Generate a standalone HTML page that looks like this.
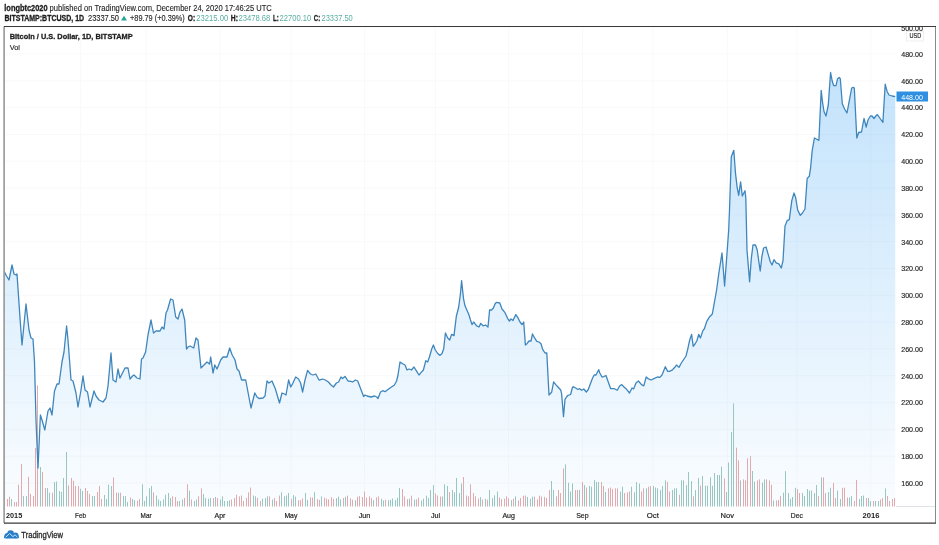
<!DOCTYPE html>
<html><head><meta charset="utf-8"><title>BTCUSD chart</title><style>
html,body{margin:0;padding:0;background:#fff;}
body{width:939px;height:545px;overflow:hidden;position:relative;}
svg{position:absolute;left:0;top:0;display:block;}
text{font-family:"Liberation Sans",Arial,sans-serif;}
</style></head><body>
<svg width="939" height="545" viewBox="0 0 939 545">
<defs>
<linearGradient id="g" x1="0" y1="72" x2="0" y2="506" gradientUnits="userSpaceOnUse">
<stop offset="0" stop-color="#2196f3" stop-opacity="0.27"/>
<stop offset="1" stop-color="#2196f3" stop-opacity="0.02"/>
</linearGradient>
<clipPath id="pane"><rect x="4.5" y="26.5" width="891" height="480"/></clipPath>
<clipPath id="box"><rect x="4.5" y="26.8" width="930.5" height="496"/></clipPath>
</defs>

<text x="4.3" y="10.6" font-size="8.3" font-weight="bold" fill="#1e1e1e" textLength="43.3" lengthAdjust="spacingAndGlyphs" stroke="#1e1e1e" stroke-width="0.3">longbtc2020</text>
<text x="49.6" y="10.6" font-size="8.3" fill="#1e1e1e" textLength="222.2" lengthAdjust="spacingAndGlyphs" stroke="#1e1e1e" stroke-width="0.12">published on TradingView.com, December 24, 2020 17:46:25 UTC</text>
<text x="4.5" y="20.7" font-size="8.3" font-weight="bold" fill="#1e1e1e" textLength="79.6" lengthAdjust="spacingAndGlyphs" stroke="#1e1e1e" stroke-width="0.3">BITSTAMP:BTCUSD, 1D</text>
<text x="88" y="20.7" font-size="8.3" fill="#1e1e1e" textLength="31" lengthAdjust="spacingAndGlyphs" stroke="#1e1e1e" stroke-width="0.12">23337.50</text>
<polygon points="121,20.5 127,20.5 124,15.8" fill="#26a69a"/>
<text x="130" y="20.7" font-size="8.3" fill="#1e1e1e" textLength="54.8" lengthAdjust="spacingAndGlyphs" stroke="#1e1e1e" stroke-width="0.12">+89.79 (+0.39%)</text>
<text x="187.8" y="20.7" font-size="8.3" font-weight="bold" fill="#1e1e1e" textLength="7.3" lengthAdjust="spacingAndGlyphs" stroke="#1e1e1e" stroke-width="0.3">O:</text>
<text x="196.2" y="20.7" font-size="8.3" fill="#5aaea3" textLength="32" lengthAdjust="spacingAndGlyphs">23215.00</text>
<text x="230.8" y="20.7" font-size="8.3" font-weight="bold" fill="#1e1e1e" textLength="7.1" lengthAdjust="spacingAndGlyphs" stroke="#1e1e1e" stroke-width="0.3">H:</text>
<text x="238.4" y="20.7" font-size="8.3" fill="#5aaea3" textLength="32" lengthAdjust="spacingAndGlyphs">23478.68</text>
<text x="273" y="20.7" font-size="8.3" font-weight="bold" fill="#1e1e1e" textLength="5.7" lengthAdjust="spacingAndGlyphs" stroke="#1e1e1e" stroke-width="0.3">L:</text>
<text x="279.5" y="20.7" font-size="8.3" fill="#5aaea3" textLength="31.8" lengthAdjust="spacingAndGlyphs">22700.10</text>
<text x="313.8" y="20.7" font-size="8.3" font-weight="bold" fill="#1e1e1e" textLength="6.4" lengthAdjust="spacingAndGlyphs" stroke="#1e1e1e" stroke-width="0.3">C:</text>
<text x="321.5" y="20.7" font-size="8.3" fill="#5aaea3" textLength="31.3" lengthAdjust="spacingAndGlyphs">23337.50</text>
<path d="M4.5 483H895.5 M4.5 456.2H895.5 M4.5 429.3H895.5 M4.5 402.5H895.5 M4.5 375.7H895.5 M4.5 348.9H895.5 M4.5 322.1H895.5 M4.5 295.3H895.5 M4.5 268.5H895.5 M4.5 241.7H895.5 M4.5 214.9H895.5 M4.5 188.1H895.5 M4.5 161.2H895.5 M4.5 134.4H895.5 M4.5 107.6H895.5 M4.5 80.8H895.5 M4.5 54H895.5 M4.5 27.2H895.5 M80.5 26.5V506 M146 26.5V506 M220 26.5V506 M291 26.5V506 M364.5 26.5V506 M435.6 26.5V506 M508.6 26.5V506 M582.5 26.5V506 M652.9 26.5V506 M727.3 26.5V506 M796.9 26.5V506 M870.9 26.5V506" stroke="#f8f9fb" stroke-width="1" fill="none"/>
<g clip-path="url(#pane)">
<polygon points="4,506.5 4,271 6.5,276 9,280 12,265 14,274 16,275 17,274 20,318 22,345 26,304 29,330 31,338 33,339 34.5,362 36,420 38,468 40.4,415 42,420 44.8,430 48,411 50,408 52,415 54.5,391 57,384 59,384 62,362 64,352 66.6,326 68,340 71,380 73,381 76,393 78,407 81,390 83,376 85,390 87.5,392 90,407 94,391 96,396 99,400 103,402 106,398 108,386 111,353 113,380 116,382 118,369 120,378 123,372 125,368 128,368 130,379 132.5,376 134,375 137,378 140,379 141.5,359 143,358 145.6,352 148,335 151,320 153.5,333 156,331 160,331 162,327 164,329 166,313 167.5,310 170.6,299 173,300 175.7,317 178,319 180,312 182,309 184.7,320 186.5,349 188,347 190,346 193.7,348 196,338 198,340 201,368 204,365 207,362 209.6,364 210.7,357 213,373 214.8,365 217,369 220.7,360 223,357 227,357 229.7,348 232,354.5 235,360 237,369 239,371 241.6,380 245.7,380 251,408 254.8,393 257,397 259,398.5 263,398 265,396 267,381 269,383 272,381 275.4,389 279.5,403 282,393 284.5,394 286,395 288.6,380 290.7,387 292.7,383.6 295.7,377 298.5,379 300.6,383 302.6,392 305,380 307.6,370.4 310.5,374 313,375 315.8,374 319,380 322.5,379 325.4,380 328.4,382 331,385 333.5,387 336.4,383 338.6,382 341,377 342.6,378.5 345,376.4 348,381 351,381.4 352.6,382 355.5,380 357.7,381 360,387 363.6,396.5 365,395 367,396 371,397 374.6,396 376.8,397 378,398.5 380.5,392 382.7,390.7 385,391.7 388.6,389 391.5,387 394.4,385 396.6,381 398,375 400,362 401.5,363 403,364 405,365 407,370 409,369 411.5,370 414,367 416.7,371.4 419,375 421,372.6 423.4,370 425.8,360.7 427.7,362 429.4,357 431.8,348.8 433.4,345 435.3,350 437.7,353.5 440,355.4 442,353.5 443.7,348.8 445.4,333 447.7,338 449.7,340 451.6,334.4 454,335.6 456.3,316.5 458.7,307 460.4,294 461.6,280.7 463.5,298.6 465,305.8 467.6,311.8 469,315 470.5,320 472,324.6 473.6,322 476.7,325.8 479,327 480.7,323.4 483,325.8 485.5,325 488,327 489.6,310 491.5,310 493.4,308 495,304 496.3,302.4 499.8,303 502,309 505,312.7 507.7,318.6 509.4,321 511,319 513,320.5 515.8,314.6 517.7,317.4 520,322 522,324.6 523.7,322 525.4,345 527,343.7 529,341 531,341 532.5,334 534.4,337.7 536.8,341.3 539,342 541,343.7 542.8,349.7 545,353 546.8,353 549,395 551.6,392.3 553.6,382 555.8,384.6 558,387 560.7,390 561.6,393.6 563.5,416.7 565,399.4 566.5,397 568,395.3 570.6,394.5 572.3,388 573,386.7 575.6,388 578,389.5 579.7,388.7 581.7,390.3 583.8,389 586.3,392 588.3,389.5 590.4,383.7 592.6,378 594.2,375 596,375 598.7,369.7 599.8,373 602,377 603.6,376.6 606,375.5 608.6,383 610.7,388.7 614.4,388.7 617.3,390.3 619.6,386 621.8,384.6 624,387 626,388.7 629.5,393 632,388 633.6,389 636,383 638.4,381 641.5,384.6 643.8,385.8 646.2,377 648,378.6 651,380 653.9,378.6 657.4,377 659.8,377.4 662,375 665.3,366.7 667.7,371.4 669.4,371.4 672.5,369.8 675.3,366.7 676.5,365 679,367.4 681.3,363 683.7,359.5 686,356 687.8,348.8 689.7,340 691.6,334.4 693.2,346.4 695,344 696.8,341 698.7,334.4 700.4,338 702.8,330.9 704.5,328.5 706.8,321.3 709.2,317.3 712.3,314 714,304.6 716.6,290 719,272 722,253 724.6,286 728.7,230 729.5,210 731.3,156.7 733.8,150.3 735.5,173.4 737.2,187.6 738.7,195.3 740.6,181.8 742.3,196 745,190.8 745.8,197.8 747,250 749.6,281.8 751.3,258.6 753,245 755.5,245 757.2,250 758.7,260.7 760.2,271 761.9,256.5 763.6,248 766,247 768.2,254.4 770.3,261.8 772,265 774,259.7 776.2,262.8 778.8,263.9 781.3,268 783,260.7 785,226 787.2,220.6 789.3,219.6 791.8,200.6 794,193 795.6,197.4 797.7,210 800.3,215.4 802.4,213 805,209 807.2,178.4 809.3,176.3 810.6,167.8 812.2,150.6 814.4,138 816.3,139 818.9,140.3 821.2,90.4 822.5,102 824,111.5 826,116 828.3,105 829.8,83.4 830.6,72.5 832.2,81 833.7,85.7 836,85.7 837.6,78.7 839.2,77.5 840.3,78.7 842.3,103.7 844.6,109 847,113 849.3,100.6 851.7,88 853.2,87.3 854.3,88 856.8,138 858.7,132.5 861.5,132 864,118.5 866.2,127 868,120 870.4,116 872,116 874,118.5 875.8,116 877.4,114.6 880.5,119 882.9,122.4 885.2,84.2 887,91.2 889,95 892.2,96 895.5,96.7 895.5,506.5" fill="url(#g)"/>
<path d="M11.5 507V499 M23.5 507V496 M26.5 507V496 M40.5 507V467 M47.5 507V488 M49.5 507V492.7 M54.5 507V482 M56.5 507V481.5 M59.5 507V491 M61.5 507V492 M63.5 507V478 M66.5 507V452 M80.5 507V488.7 M82.5 507V491 M92.5 507V496 M94.5 507V496 M104.5 507V495 M106.5 507V499 M108.5 507V484.7 M111.5 507V486 M118.5 507V492.7 M123.5 507V496 M125.5 507V496 M127.5 507V502 M132.5 507V499 M134.5 507V500 M142.5 507V484.3 M144.5 507V501 M146.5 507V496.3 M149.5 507V488.3 M151.5 507V486 M156.5 507V495.5 M158.5 507V499.5 M160.5 507V501 M163.5 507V499.5 M165.5 507V494.7 M168.5 507V493 M170.5 507V498 M179.5 507V501 M182.5 507V499.5 M189.5 507V490.7 M194.5 507V501 M196.5 507V499.5 M203.5 507V494 M205.5 507V498 M208.5 507V498.7 M210.5 507V498 M215.5 507V497 M220.5 507V499.5 M222.5 507V496.3 M224.5 507V501 M227.5 507V501 M229.5 507V500.3 M253.5 507V495.5 M255.5 507V496.3 M262.5 507V498.7 M265.5 507V498 M267.5 507V496.3 M272.5 507V499.5 M281.5 507V492.3 M284.5 507V496.3 M286.5 507V495.5 M288.5 507V493 M293.5 507V495.1 M295.5 507V496.6 M305.5 507V493 M307.5 507V499.9 M314.5 507V492.2 M321.5 507V496.4 M336.5 507V498.2 M338.5 507V496.5 M340.5 507V499.3 M345.5 507V496.9 M355.5 507V500.3 M373.5 507V500.2 M381.5 507V498.6 M383.5 507V500.4 M388.5 507V500.2 M390.5 507V499.9 M392.5 507V498.5 M395.5 507V500.1 M397.5 507V497.8 M399.5 507V488 M409.5 507V498.7 M414.5 507V499.6 M421.5 507V500.5 M423.5 507V498.7 M426.5 507V495.7 M428.5 507V497.9 M430.5 507V490 M433.5 507V485 M442.5 507V496.5 M444.5 507V484.3 M447.5 507V486 M452.5 507V490 M454.5 507V492.3 M456.5 507V478 M459.5 507V493 M461.5 507V483.5 M480.5 507V497.1 M485.5 507V498.8 M489.5 507V490 M492.5 507V498 M494.5 507V495.2 M497.5 507V491.5 M511.5 507V500.1 M515.5 507V496.4 M527.5 507V497 M530.5 507V498.7 M532.5 507V496.6 M551.5 507V481 M553.5 507V490 M565.5 507V464.4 M568.5 507V482.7 M570.5 507V491.5 M572.5 507V483.5 M579.5 507V490 M584.5 507V485 M589.5 507V486 M591.5 507V486.7 M594.5 507V480 M596.5 507V482 M598.5 507V482 M605.5 507V492 M620.5 507V491.5 M622.5 507V486.7 M631.5 507V486.7 M634.5 507V492.3 M636.5 507V482 M639.5 507V483.5 M646.5 507V488.3 M653.5 507V486 M655.5 507V487.5 M657.5 507V488.3 M660.5 507V490 M662.5 507V486 M665.5 507V480.3 M672.5 507V490 M674.5 507V488.3 M676.5 507V488.3 M681.5 507V480.3 M683.5 507V480.3 M686.5 507V485 M688.5 507V472 M691.5 507V481 M695.5 507V490 M698.5 507V478 M702.5 507V476 M705.5 507V485.7 M707.5 507V485.7 M710.5 507V477.3 M712.5 507V485.7 M714.5 507V473 M717.5 507V475 M719.5 507V475 M721.5 507V466.7 M726.5 507V492 M728.5 507V462.5 M731.5 507V432 M733.5 507V403.4 M740.5 507V480.4 M752.5 507V471 M754.5 507V481.5 M762.5 507V482.6 M764.5 507V479.4 M773.5 507V500.5 M783.5 507V492.6 M785.5 507V471.2 M788.5 507V493 M790.5 507V499 M792.5 507V497 M795.5 507V487.8 M802.5 507V493 M804.5 507V496 M807.5 507V489 M809.5 507V490.5 M811.5 507V490.5 M814.5 507V493 M816.5 507V485 M821.5 507V477.4 M828.5 507V492 M830.5 507V487.8 M837.5 507V490.5 M840.5 507V499 M849.5 507V497.5 M851.5 507V496 M859.5 507V499 M861.5 507V496 M863.5 507V495.5 M868.5 507V498 M870.5 507V501 M875.5 507V501 M878.5 507V501 M885.5 507V488.5" stroke="#98c6c0" stroke-width="1" fill="none"/>
<path d="M7.5 507V499 M9.5 507V496.7 M14.5 507V502 M16.5 507V502 M18.5 507V484.7 M21.5 507V464 M28.5 507V476.7 M30.5 507V494 M33.5 507V496 M35.5 507V448 M37.5 507V385.4 M42.5 507V472 M45.5 507V488 M52.5 507V492.7 M68.5 507V485.5 M71.5 507V478 M73.5 507V480.7 M75.5 507V486 M78.5 507V486 M85.5 507V488 M87.5 507V491 M89.5 507V494 M97.5 507V492 M99.5 507V486 M101.5 507V499 M113.5 507V477.5 M116.5 507V492.7 M120.5 507V492.7 M130.5 507V497.5 M137.5 507V500.7 M139.5 507V499 M153.5 507V492.3 M172.5 507V496.3 M175.5 507V497 M177.5 507V501 M184.5 507V498 M187.5 507V484.3 M191.5 507V499.5 M198.5 507V496.3 M201.5 507V488.3 M213.5 507V498 M217.5 507V498 M231.5 507V499.5 M234.5 507V498 M236.5 507V494.7 M239.5 507V496.3 M241.5 507V495.5 M243.5 507V501 M246.5 507V498 M248.5 507V492.3 M250.5 507V487.5 M257.5 507V498 M260.5 507V501 M269.5 507V496.3 M274.5 507V498 M276.5 507V501 M279.5 507V495.5 M291.5 507V498.9 M298.5 507V500.3 M300.5 507V500.2 M302.5 507V498.4 M310.5 507V497.4 M312.5 507V497.6 M317.5 507V499.1 M319.5 507V499.9 M324.5 507V497.6 M326.5 507V498.6 M328.5 507V499.4 M331.5 507V497.1 M333.5 507V498.9 M343.5 507V497.9 M347.5 507V495.6 M350.5 507V498.4 M352.5 507V499.7 M357.5 507V496.7 M359.5 507V496.1 M362.5 507V497 M364.5 507V491.5 M366.5 507V497.6 M369.5 507V496.3 M371.5 507V498.1 M376.5 507V497.3 M378.5 507V496.4 M385.5 507V499.7 M402.5 507V489 M404.5 507V496.4 M407.5 507V499.1 M411.5 507V495.7 M416.5 507V499.3 M418.5 507V497.6 M435.5 507V493.5 M437.5 507V495.5 M440.5 507V496.6 M449.5 507V492 M463.5 507V477 M466.5 507V495.5 M468.5 507V496.3 M470.5 507V484.3 M473.5 507V493 M475.5 507V496.3 M478.5 507V498.5 M482.5 507V499.5 M487.5 507V499.7 M499.5 507V497.4 M501.5 507V499.2 M504.5 507V498.7 M506.5 507V496.3 M508.5 507V498.2 M513.5 507V498.8 M518.5 507V500.4 M520.5 507V497.9 M523.5 507V495.7 M525.5 507V495.6 M534.5 507V496.6 M537.5 507V499.4 M539.5 507V495.6 M541.5 507V496.5 M544.5 507V496.8 M546.5 507V497.9 M549.5 507V490 M556.5 507V496.3 M558.5 507V490 M560.5 507V493 M563.5 507V468.4 M575.5 507V490 M577.5 507V490 M582.5 507V482 M586.5 507V487.5 M601.5 507V482 M603.5 507V486 M608.5 507V488.3 M610.5 507V487.5 M612.5 507V489 M615.5 507V488.3 M617.5 507V488.3 M624.5 507V493 M627.5 507V492.3 M629.5 507V491.5 M641.5 507V491.5 M643.5 507V488.3 M648.5 507V486.7 M650.5 507V486 M667.5 507V482 M669.5 507V491.5 M679.5 507V494.7 M693.5 507V496.3 M700.5 507V485.7 M724.5 507V478.3 M736.5 507V447.7 M738.5 507V460.4 M743.5 507V479.4 M745.5 507V480.4 M747.5 507V458.3 M750.5 507V456.2 M757.5 507V480.4 M759.5 507V479.4 M766.5 507V479.4 M769.5 507V480.4 M771.5 507V484.7 M776.5 507V500.5 M778.5 507V500 M780.5 507V496 M797.5 507V489 M799.5 507V493 M818.5 507V496 M823.5 507V477.4 M825.5 507V493 M833.5 507V483 M835.5 507V498 M842.5 507V487.8 M844.5 507V487.8 M847.5 507V497.5 M854.5 507V501 M856.5 507V480 M866.5 507V498 M873.5 507V501 M880.5 507V499.5 M882.5 507V498 M887.5 507V496 M889.5 507V501 M892.5 507V499 M894.5 507V498" stroke="#e2aaad" stroke-width="1" fill="none"/>
<polyline points="4,271 6.5,276 9,280 12,265 14,274 16,275 17,274 20,318 22,345 26,304 29,330 31,338 33,339 34.5,362 36,420 38,468 40.4,415 42,420 44.8,430 48,411 50,408 52,415 54.5,391 57,384 59,384 62,362 64,352 66.6,326 68,340 71,380 73,381 76,393 78,407 81,390 83,376 85,390 87.5,392 90,407 94,391 96,396 99,400 103,402 106,398 108,386 111,353 113,380 116,382 118,369 120,378 123,372 125,368 128,368 130,379 132.5,376 134,375 137,378 140,379 141.5,359 143,358 145.6,352 148,335 151,320 153.5,333 156,331 160,331 162,327 164,329 166,313 167.5,310 170.6,299 173,300 175.7,317 178,319 180,312 182,309 184.7,320 186.5,349 188,347 190,346 193.7,348 196,338 198,340 201,368 204,365 207,362 209.6,364 210.7,357 213,373 214.8,365 217,369 220.7,360 223,357 227,357 229.7,348 232,354.5 235,360 237,369 239,371 241.6,380 245.7,380 251,408 254.8,393 257,397 259,398.5 263,398 265,396 267,381 269,383 272,381 275.4,389 279.5,403 282,393 284.5,394 286,395 288.6,380 290.7,387 292.7,383.6 295.7,377 298.5,379 300.6,383 302.6,392 305,380 307.6,370.4 310.5,374 313,375 315.8,374 319,380 322.5,379 325.4,380 328.4,382 331,385 333.5,387 336.4,383 338.6,382 341,377 342.6,378.5 345,376.4 348,381 351,381.4 352.6,382 355.5,380 357.7,381 360,387 363.6,396.5 365,395 367,396 371,397 374.6,396 376.8,397 378,398.5 380.5,392 382.7,390.7 385,391.7 388.6,389 391.5,387 394.4,385 396.6,381 398,375 400,362 401.5,363 403,364 405,365 407,370 409,369 411.5,370 414,367 416.7,371.4 419,375 421,372.6 423.4,370 425.8,360.7 427.7,362 429.4,357 431.8,348.8 433.4,345 435.3,350 437.7,353.5 440,355.4 442,353.5 443.7,348.8 445.4,333 447.7,338 449.7,340 451.6,334.4 454,335.6 456.3,316.5 458.7,307 460.4,294 461.6,280.7 463.5,298.6 465,305.8 467.6,311.8 469,315 470.5,320 472,324.6 473.6,322 476.7,325.8 479,327 480.7,323.4 483,325.8 485.5,325 488,327 489.6,310 491.5,310 493.4,308 495,304 496.3,302.4 499.8,303 502,309 505,312.7 507.7,318.6 509.4,321 511,319 513,320.5 515.8,314.6 517.7,317.4 520,322 522,324.6 523.7,322 525.4,345 527,343.7 529,341 531,341 532.5,334 534.4,337.7 536.8,341.3 539,342 541,343.7 542.8,349.7 545,353 546.8,353 549,395 551.6,392.3 553.6,382 555.8,384.6 558,387 560.7,390 561.6,393.6 563.5,416.7 565,399.4 566.5,397 568,395.3 570.6,394.5 572.3,388 573,386.7 575.6,388 578,389.5 579.7,388.7 581.7,390.3 583.8,389 586.3,392 588.3,389.5 590.4,383.7 592.6,378 594.2,375 596,375 598.7,369.7 599.8,373 602,377 603.6,376.6 606,375.5 608.6,383 610.7,388.7 614.4,388.7 617.3,390.3 619.6,386 621.8,384.6 624,387 626,388.7 629.5,393 632,388 633.6,389 636,383 638.4,381 641.5,384.6 643.8,385.8 646.2,377 648,378.6 651,380 653.9,378.6 657.4,377 659.8,377.4 662,375 665.3,366.7 667.7,371.4 669.4,371.4 672.5,369.8 675.3,366.7 676.5,365 679,367.4 681.3,363 683.7,359.5 686,356 687.8,348.8 689.7,340 691.6,334.4 693.2,346.4 695,344 696.8,341 698.7,334.4 700.4,338 702.8,330.9 704.5,328.5 706.8,321.3 709.2,317.3 712.3,314 714,304.6 716.6,290 719,272 722,253 724.6,286 728.7,230 729.5,210 731.3,156.7 733.8,150.3 735.5,173.4 737.2,187.6 738.7,195.3 740.6,181.8 742.3,196 745,190.8 745.8,197.8 747,250 749.6,281.8 751.3,258.6 753,245 755.5,245 757.2,250 758.7,260.7 760.2,271 761.9,256.5 763.6,248 766,247 768.2,254.4 770.3,261.8 772,265 774,259.7 776.2,262.8 778.8,263.9 781.3,268 783,260.7 785,226 787.2,220.6 789.3,219.6 791.8,200.6 794,193 795.6,197.4 797.7,210 800.3,215.4 802.4,213 805,209 807.2,178.4 809.3,176.3 810.6,167.8 812.2,150.6 814.4,138 816.3,139 818.9,140.3 821.2,90.4 822.5,102 824,111.5 826,116 828.3,105 829.8,83.4 830.6,72.5 832.2,81 833.7,85.7 836,85.7 837.6,78.7 839.2,77.5 840.3,78.7 842.3,103.7 844.6,109 847,113 849.3,100.6 851.7,88 853.2,87.3 854.3,88 856.8,138 858.7,132.5 861.5,132 864,118.5 866.2,127 868,120 870.4,116 872,116 874,118.5 875.8,116 877.4,114.6 880.5,119 882.9,122.4 885.2,84.2 887,91.2 889,95 892.2,96 895.5,96.7" fill="none" stroke="#3f86bd" stroke-width="1.3" stroke-linejoin="round"/>
</g>
<path d="M896 506.5H935" stroke="#dfe2e8" stroke-width="1"/>
<g clip-path="url(#box)">
<text x="901.2" y="485.8" font-size="8" fill="#222" textLength="21.7" lengthAdjust="spacingAndGlyphs" stroke="#222" stroke-width="0.15">160.00</text>
<text x="901.2" y="459" font-size="8" fill="#222" textLength="21.7" lengthAdjust="spacingAndGlyphs" stroke="#222" stroke-width="0.15">180.00</text>
<text x="901.2" y="432.1" font-size="8" fill="#222" textLength="21.7" lengthAdjust="spacingAndGlyphs" stroke="#222" stroke-width="0.15">200.00</text>
<text x="901.2" y="405.3" font-size="8" fill="#222" textLength="21.7" lengthAdjust="spacingAndGlyphs" stroke="#222" stroke-width="0.15">220.00</text>
<text x="901.2" y="378.5" font-size="8" fill="#222" textLength="21.7" lengthAdjust="spacingAndGlyphs" stroke="#222" stroke-width="0.15">240.00</text>
<text x="901.2" y="351.7" font-size="8" fill="#222" textLength="21.7" lengthAdjust="spacingAndGlyphs" stroke="#222" stroke-width="0.15">260.00</text>
<text x="901.2" y="324.9" font-size="8" fill="#222" textLength="21.7" lengthAdjust="spacingAndGlyphs" stroke="#222" stroke-width="0.15">280.00</text>
<text x="901.2" y="298.1" font-size="8" fill="#222" textLength="21.7" lengthAdjust="spacingAndGlyphs" stroke="#222" stroke-width="0.15">300.00</text>
<text x="901.2" y="271.3" font-size="8" fill="#222" textLength="21.7" lengthAdjust="spacingAndGlyphs" stroke="#222" stroke-width="0.15">320.00</text>
<text x="901.2" y="244.5" font-size="8" fill="#222" textLength="21.7" lengthAdjust="spacingAndGlyphs" stroke="#222" stroke-width="0.15">340.00</text>
<text x="901.2" y="217.7" font-size="8" fill="#222" textLength="21.7" lengthAdjust="spacingAndGlyphs" stroke="#222" stroke-width="0.15">360.00</text>
<text x="901.2" y="190.9" font-size="8" fill="#222" textLength="21.7" lengthAdjust="spacingAndGlyphs" stroke="#222" stroke-width="0.15">380.00</text>
<text x="901.2" y="164" font-size="8" fill="#222" textLength="21.7" lengthAdjust="spacingAndGlyphs" stroke="#222" stroke-width="0.15">400.00</text>
<text x="901.2" y="137.2" font-size="8" fill="#222" textLength="21.7" lengthAdjust="spacingAndGlyphs" stroke="#222" stroke-width="0.15">420.00</text>
<text x="901.2" y="110.4" font-size="8" fill="#222" textLength="21.7" lengthAdjust="spacingAndGlyphs" stroke="#222" stroke-width="0.15">440.00</text>
<text x="901.2" y="83.6" font-size="8" fill="#222" textLength="21.7" lengthAdjust="spacingAndGlyphs" stroke="#222" stroke-width="0.15">460.00</text>
<text x="901.2" y="56.8" font-size="8" fill="#222" textLength="21.7" lengthAdjust="spacingAndGlyphs" stroke="#222" stroke-width="0.15">480.00</text>
<text x="901.2" y="30.6" font-size="8" fill="#222" textLength="21.7" lengthAdjust="spacingAndGlyphs" stroke="#222" stroke-width="0.15">500.00</text>
</g>
<rect x="906.5" y="31.5" width="17" height="9.5" fill="#fff" stroke="#efefef" stroke-width="1"/>
<text x="909.5" y="38.1" font-size="7.5" fill="#222" textLength="11.8" lengthAdjust="spacingAndGlyphs" stroke="#222" stroke-width="0.15">USD</text>
<rect x="896.5" y="91.5" width="31.5" height="10" fill="#2f8fe0"/>
<text x="901.2" y="99.7" font-size="8" fill="#fff" textLength="21.7" lengthAdjust="spacingAndGlyphs">448.00</text>
<text x="6" y="518.4" font-size="8" font-weight="bold" fill="#222" textLength="16.2" lengthAdjust="spacingAndGlyphs">2015</text>
<text x="75" y="518.4" font-size="8" fill="#222" textLength="11" lengthAdjust="spacingAndGlyphs" stroke="#222" stroke-width="0.2">Feb</text>
<text x="140.6" y="518.4" font-size="8" fill="#222" textLength="11" lengthAdjust="spacingAndGlyphs" stroke="#222" stroke-width="0.2">Mar</text>
<text x="214.5" y="518.4" font-size="8" fill="#222" textLength="10.9" lengthAdjust="spacingAndGlyphs" stroke="#222" stroke-width="0.2">Apr</text>
<text x="284.4" y="518.4" font-size="8" fill="#222" textLength="13" lengthAdjust="spacingAndGlyphs" stroke="#222" stroke-width="0.2">May</text>
<text x="358.7" y="518.4" font-size="8" fill="#222" textLength="11.6" lengthAdjust="spacingAndGlyphs" stroke="#222" stroke-width="0.2">Jun</text>
<text x="431" y="518.4" font-size="8" fill="#222" textLength="9.2" lengthAdjust="spacingAndGlyphs" stroke="#222" stroke-width="0.2">Jul</text>
<text x="502.4" y="518.4" font-size="8" fill="#222" textLength="12.5" lengthAdjust="spacingAndGlyphs" stroke="#222" stroke-width="0.2">Aug</text>
<text x="576.2" y="518.4" font-size="8" fill="#222" textLength="12.5" lengthAdjust="spacingAndGlyphs" stroke="#222" stroke-width="0.2">Sep</text>
<text x="646.8" y="518.4" font-size="8" fill="#222" textLength="12.1" lengthAdjust="spacingAndGlyphs" stroke="#222" stroke-width="0.2">Oct</text>
<text x="720.6" y="518.4" font-size="8" fill="#222" textLength="13.4" lengthAdjust="spacingAndGlyphs" stroke="#222" stroke-width="0.2">Nov</text>
<text x="790.8" y="518.4" font-size="8" fill="#222" textLength="12.1" lengthAdjust="spacingAndGlyphs" stroke="#222" stroke-width="0.2">Dec</text>
<text x="862.4" y="518.4" font-size="8" font-weight="bold" fill="#222" textLength="17" lengthAdjust="spacingAndGlyphs">2016</text>
<text x="9.7" y="39.2" font-size="7.7" font-weight="bold" fill="#1e1e1e" textLength="123" lengthAdjust="spacingAndGlyphs" stroke="#1e1e1e" stroke-width="0.3">Bitcoin / U.S. Dollar, 1D, BITSTAMP</text>
<text x="9.7" y="49.8" font-size="7.9" fill="#222" textLength="10.3" lengthAdjust="spacingAndGlyphs" stroke="#222" stroke-width="0.12">Vol</text>
<path d="M4.1 26.5V523" stroke="#909090" stroke-width="1.5"/>
<path d="M935.5 26.5V523" stroke="#8a8a8a" stroke-width="1"/>
<path d="M4 26.5H936" stroke="#3a3a3a" stroke-width="1"/>
<path d="M4 523.2H936" stroke="#3a3a3a" stroke-width="1.2"/>
<g fill="#2b7dc6"><circle cx="7.3" cy="535.6" r="2.7"/><circle cx="10.6" cy="533.6" r="3.4"/><circle cx="15.6" cy="535.3" r="2.9"/><rect x="4.1" y="535.2" width="14.8" height="3.4" rx="1.4"/></g>
<polyline points="5.8,537.2 9.6,533.5 13.0,536.6 15.0,534.8 17.3,537.0" fill="none" stroke="#cdeefc" stroke-width="0.9"/>
<text x="21.3" y="537.8" font-size="8.5" fill="#2a2a2a" textLength="41.7" lengthAdjust="spacingAndGlyphs" stroke="#2a2a2a" stroke-width="0.3">TradingView</text>
</svg>
</body></html>
